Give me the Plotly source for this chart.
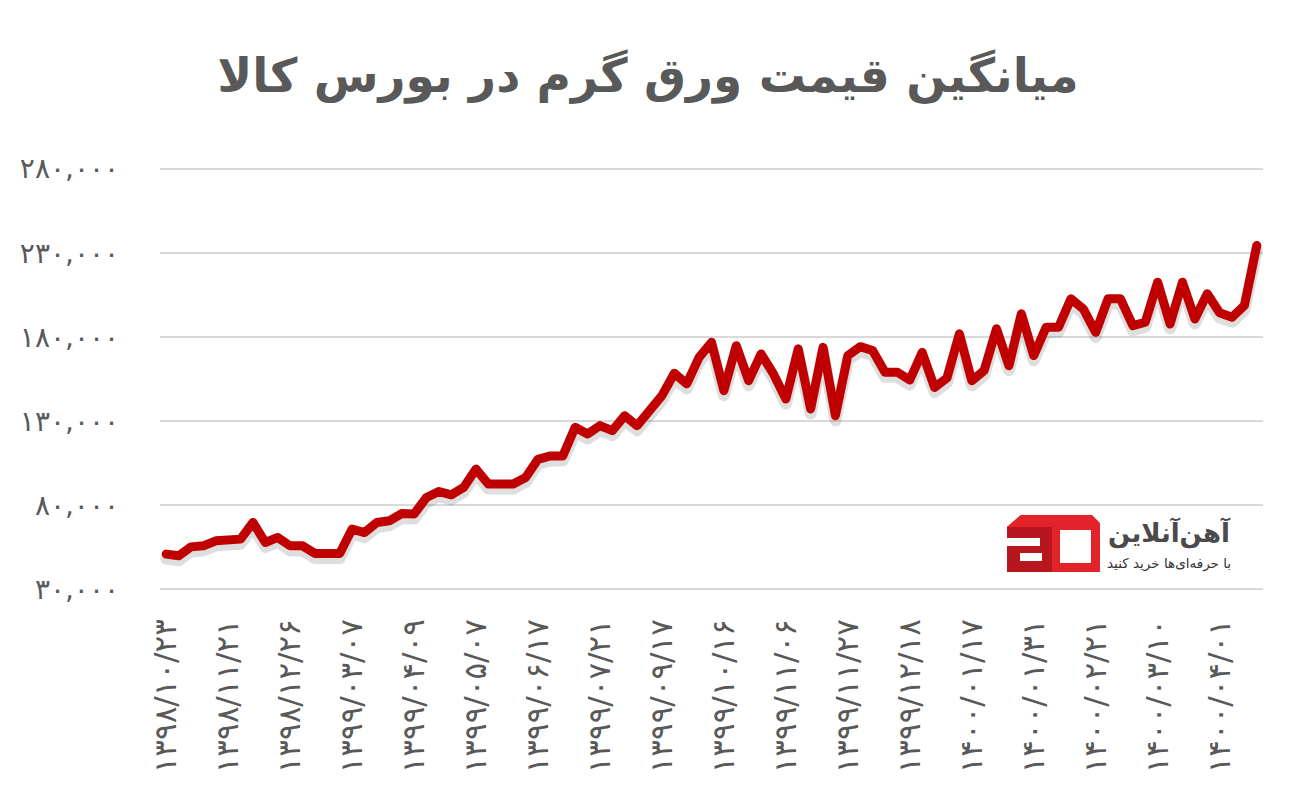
import plotly.graph_objects as go

FA = str.maketrans("0123456789", "۰۱۲۳۴۵۶۷۸۹")

title_text = "میانگین قیمت ورق گرم در بورس کالا"

prices = [
    51000, 50000, 55300, 55900, 58900, 59900, 59900, 69800, 57900, 60900,
    55900, 55900, 51400, 51400, 51400, 65900, 63800, 69800, 70800, 75100,
    74800, 84600, 88200, 86200, 90600, 101500, 92600, 92600, 92600, 96500,
    107300, 109300, 109300, 126300, 122300, 127300, 124300, 133200, 127300, 136200,
    145100, 158400, 152100, 167900, 176800, 148100, 174800, 154000, 169900, 158000,
    143100, 172900, 137200, 173800, 133200, 168900, 174200, 171900, 159000, 159000,
    154400, 170800, 150000, 155600, 181800, 154000, 160000, 184800, 162900, 193700,
    168900, 185700, 185700, 202600, 196600, 182700, 202600, 202600, 186700, 188700,
    212500, 187700, 212500, 190700, 205600, 194300, 191700, 198600, 234300,
]
x_index = list(range(len(prices)))

date_labels = [
    "1398/10/23", "1398/11/21", "1398/12/26", "1399/03/07", "1399/04/09",
    "1399/05/07", "1399/06/17", "1399/07/21", "1399/09/17", "1399/10/16",
    "1399/11/06", "1399/11/27", "1399/12/18", "1400/01/17", "1400/01/31",
    "1400/02/21", "1400/03/10", "1400/04/01",
]
label_positions = list(range(0, 90, 5))[:len(date_labels)]

y_ticks = [30000, 80000, 130000, 180000, 230000, 280000]
y_ticktext = [f"{v:,}".translate(FA) for v in y_ticks]
x_ticktext = [d.translate(FA) for d in date_labels]

LINE = "#C00000"
GREY = "#595959"

fig = go.Figure()
# base subplot (invisible copy, keeps the grid/axes of the main subplot alive)
fig.add_trace(go.Scatter(x=x_index, y=prices, mode="lines", opacity=0,
                         line=dict(color=LINE, width=1),
                         hoverinfo="skip", showlegend=False))
# soft drop shadow (same data, drawn on an overlay axis shifted a few pixels)
fig.add_trace(go.Scatter(x=x_index, y=prices, mode="lines", yaxis="y2",
                         line=dict(color="rgba(0,0,0,0.13)", width=12),
                         hoverinfo="skip", showlegend=False))
fig.add_trace(go.Scatter(x=x_index, y=prices, mode="lines", yaxis="y4",
                         line=dict(color=LINE, width=9),
                         showlegend=False))

pad = 1500
yr = [30000 - pad, 280000 + pad]
shift = 2700
fig.update_layout(
    width=1296, height=786,
    paper_bgcolor="white", plot_bgcolor="white",
    margin=dict(l=160, r=33, t=166, b=194),
    title=dict(text="<b>" + title_text + "</b>", x=0.5, xref="container", xanchor="center",
               y=1 - 76 / 786, yref="container", yanchor="middle",
               font=dict(family="DejaVu Sans", size=47, color=GREY)),
    xaxis=dict(range=[-0.5, len(prices) - 0.5], showgrid=False, zeroline=False,
               showline=False, tickmode="array", tickvals=label_positions,
               ticktext=x_ticktext, tickangle=-90, ticks="",
               ticklabelstandoff=20,
               tickfont=dict(family="DejaVu Sans", size=31, color=GREY)),
    yaxis=dict(range=yr, tickmode="array", tickvals=y_ticks, ticktext=y_ticktext,
               showgrid=True, gridcolor="#D9D9D9", gridwidth=2, zeroline=False,
               showline=False, ticks="", ticklabelstandoff=40,
               tickfont=dict(family="DejaVu Sans", size=28, color=GREY)),
    yaxis2=dict(range=[yr[0] + shift, yr[1] + shift], overlaying="y",
                visible=False, showgrid=False),
    yaxis4=dict(range=yr, overlaying="y", visible=False, showgrid=False),
    xaxis3=dict(domain=[(1000 - 160) / 1103, (1240 - 160) / 1103], range=[1000, 1240],
                visible=False, anchor="y3", fixedrange=True),
    yaxis3=dict(domain=[(592 - 580) / 426, (592 - 510) / 426], range=[580, 510],
                visible=False, anchor="x3", fixedrange=True),
)

# logo icon
shapes = [
    dict(type="rect", x0=1003, x1=1238, y0=512, y1=578, xref="x3", yref="y3",
         fillcolor="white", line=dict(width=0), layer="above"),
    dict(type="path", xref="x3", yref="y3", layer="above",
         path="M1007,527 L1021,515 L1052,515 L1052,572 L1007,572 Z",
         fillcolor="#B8161E", line=dict(width=0)),
    dict(type="path", xref="x3", yref="y3", layer="above",
         path="M1007,527 L1021,515 L1052,515 L1052,527 Z",
         fillcolor="#E2232A", line=dict(width=0)),
    dict(type="rect", xref="x3", yref="y3", layer="above",
         x0=1007, x1=1040, y0=538, y1=546, fillcolor="white", line=dict(width=0)),
    dict(type="rect", xref="x3", yref="y3", layer="above",
         x0=1020, x1=1042, y0=553, y1=561, fillcolor="white", line=dict(width=0)),
    dict(type="path", xref="x3", yref="y3", layer="above",
         path="M1052,515 L1092,515 L1100,523 L1100,572 L1052,572 Z "
              "M1060,530 L1060,563 L1091,563 L1091,530 Z",
         fillcolor="#E2232A", line=dict(width=0)),
]
fig.update_layout(shapes=shapes)

fig.add_annotation(x=1233, y=533, xref="x3", yref="y3", xanchor="right",
                   yanchor="middle", showarrow=False, text="<b>آهن‌آنلاین</b>",
                   font=dict(family="DejaVu Sans", size=26, color="#4A4A4A"))
fig.add_annotation(x=1233, y=563, xref="x3", yref="y3", xanchor="right",
                   yanchor="middle", showarrow=False, text="با حرفه‌ای‌ها خرید کنید",
                   font=dict(family="DejaVu Sans", size=13.5, color="#333333"))

post = """
document.body.style.margin='0';
document.querySelectorAll('.scatterlayer path.js-line').forEach(function(p){
  p.style.strokeLinejoin='round'; p.style.strokeLinecap='round';
});
"""
fig.write_html("out.html", post_script=post, config={"displayModeBar": False})
